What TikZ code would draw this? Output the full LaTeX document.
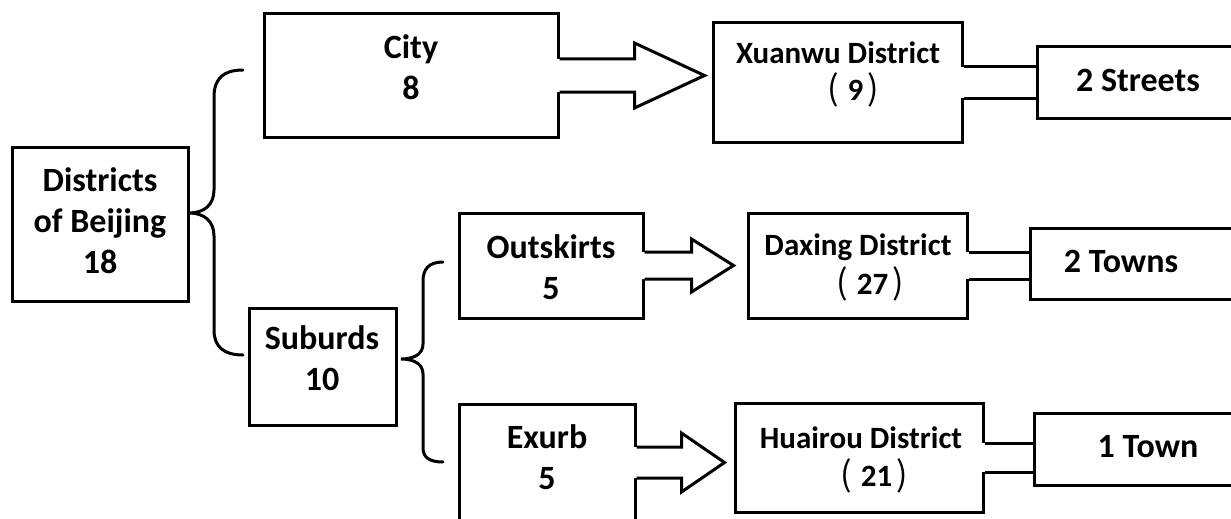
\documentclass[tikz,border=0pt]{standalone}
\usepackage{fontspec}
\setmainfont{Carlito}
\newfontfamily\cjk{Noto Sans CJK SC}
\usetikzlibrary{calc}
\tikzset{
  box/.style={draw, line width=3pt, inner sep=0pt},
  txt/.style={font=\fontsize{34}{41}\selectfont\bfseries, align=center, inner sep=0pt},
  dtxt/.style={font=\fontsize{31}{37}\selectfont\bfseries, align=center, inner sep=0pt},
  ln/.style={line width=3pt, line join=miter},
  brace/.style={line width=3pt, line cap=round}
}
\newcommand\pnum[1]{{\fontsize{34}{34}\selectfont\cjk\mdseries (}\hspace{9pt}#1\hspace{4pt}{\fontsize{34}{34}\selectfont\cjk\mdseries )}}
\newcommand\blockarrow[6]{% src, dst, shaft half, head half, shaft length, gap
  \fill[white] ($(#1.east)+(-3,-#3)$) -- ($(#1.east)+(#5,-#3)$) -- ($(#1.east)+(#5,-#4)$)
    -- ($(#2.west |- #1.east)+(-#6,0)$) -- ($(#1.east)+(#5,#4)$) -- ($(#1.east)+(#5,#3)$)
    -- ($(#1.east)+(-3,#3)$) -- cycle;
  \draw[ln] ($(#1.east)+(0,-#3)$) -- ($(#1.east)+(#5,-#3)$) -- ($(#1.east)+(#5,-#4)$)
    -- ($(#2.west |- #1.east)+(-#6,0)$) -- ($(#1.east)+(#5,#4)$) -- ($(#1.east)+(#5,#3)$)
    -- ($(#1.east)+(0,#3)$);
}
\newcommand\linkbar[3]{% src, dst, shaft half
  \fill[white] ($(#1.east)+(-3,-#3)$) rectangle ($(#1.east)+(3,#3)$);
  \draw[ln] ($(#1.east)+(0,-#3)$) -- ($(#2.west |- #1.east)+(0,-#3)$);
  \draw[ln] ($(#1.east)+(0,#3)$) -- ($(#2.west |- #1.east)+(0,#3)$);
}
\begin{document}
\begin{tikzpicture}[x=1pt,y=-1pt]
\useasboundingbox (0,0) rectangle (1231,519);
\clip (0,0) rectangle (1231,519);
\fill[white] (0,0) rectangle (1231,519);
% boxes
\node[box, minimum width=176pt, minimum height=154pt] (dist) at (100,224) {};
\node[box, minimum width=294pt, minimum height=123pt] (city) at (411,75.5) {};
\node[box, minimum width=249pt, minimum height=119pt] (xuanwu) at (837.5,82.5) {};
\node[box, minimum width=203pt, minimum height=71pt] (streets) at (1138.5,82.5) {};
\node[box, minimum width=147pt, minimum height=117pt] (suburbs) at (322.5,366.5) {};
\node[box, minimum width=184pt, minimum height=105pt] (outskirts) at (551,265.5) {};
\node[box, minimum width=219pt, minimum height=105pt] (daxing) at (857.5,265.5) {};
\node[box, minimum width=210pt, minimum height=71pt] (towns) at (1135,263.5) {};
\node[box, minimum width=176pt, minimum height=117pt] (exurb) at (547,462.5) {};
\node[box, minimum width=248pt, minimum height=109pt] (huairou) at (859,457.5) {};
\node[box, minimum width=206pt, minimum height=72pt] (town) at (1137,449) {};
% texts
\node[txt] (disttxt) at (100,221) {Districts\\of Beijing\\18};
\node[txt] (citytxt) at (411,67) {City\\8};
\node[dtxt] (xuanwu1) at (838,53) {Xuanwu District};
\node[dtxt] (xuanwu2) at (853,90) {\pnum{9}};
\node[txt] (streetstxt) at (1138,80) {2 Streets};
\node[txt] (suburbstxt) at (322,358) {Suburds\\10};
\node[txt] (outskirtstxt) at (551,267) {Outskirts\\5};
\node[dtxt] (daxing1) at (858,247) {Daxing District};
\node[dtxt] (daxing2) at (870,284) {\pnum{27}};
\node[txt] (townstxt) at (1121,261) {2 Towns};
\node[txt] (exurbtxt) at (547,457) {Exurb\\5};
\node[dtxt] (huairou1) at (861,438) {Huairou District};
\node[dtxt] (huairou2) at (874,476) {\pnum{21}};
\node[txt] (towntxt) at (1148,447) {1 Town};
% block arrows
\blockarrow{city}{xuanwu}{16.5}{32.5}{75}{7}
\blockarrow{outskirts}{daxing}{13.5}{26.5}{47}{13}
\blockarrow{exurb}{huairou}{15.5}{29.5}{45}{9}
% connectors
\linkbar{xuanwu}{streets}{15.5}
\linkbar{daxing}{towns}{13.5}
\linkbar{huairou}{town}{14.5}
% braces
\draw[brace] (243,70) .. controls (224,70) and (214,78) .. (214,97) -- (214,190)
  .. controls (214,205) and (204,213) .. (189,213)
  .. controls (204,213) and (214,221) .. (214,236) -- (214,330)
  .. controls (214,347) and (224,355) .. (243,355);
\draw[brace] (443,262) .. controls (429,262) and (423,269) .. (423,281) -- (423,344)
  .. controls (423,354) and (414,359) .. (401,359)
  .. controls (414,359) and (423,364) .. (423,374) -- (423,448)
  .. controls (423,457) and (429,462) .. (443,462);
\end{tikzpicture}
\end{document}
